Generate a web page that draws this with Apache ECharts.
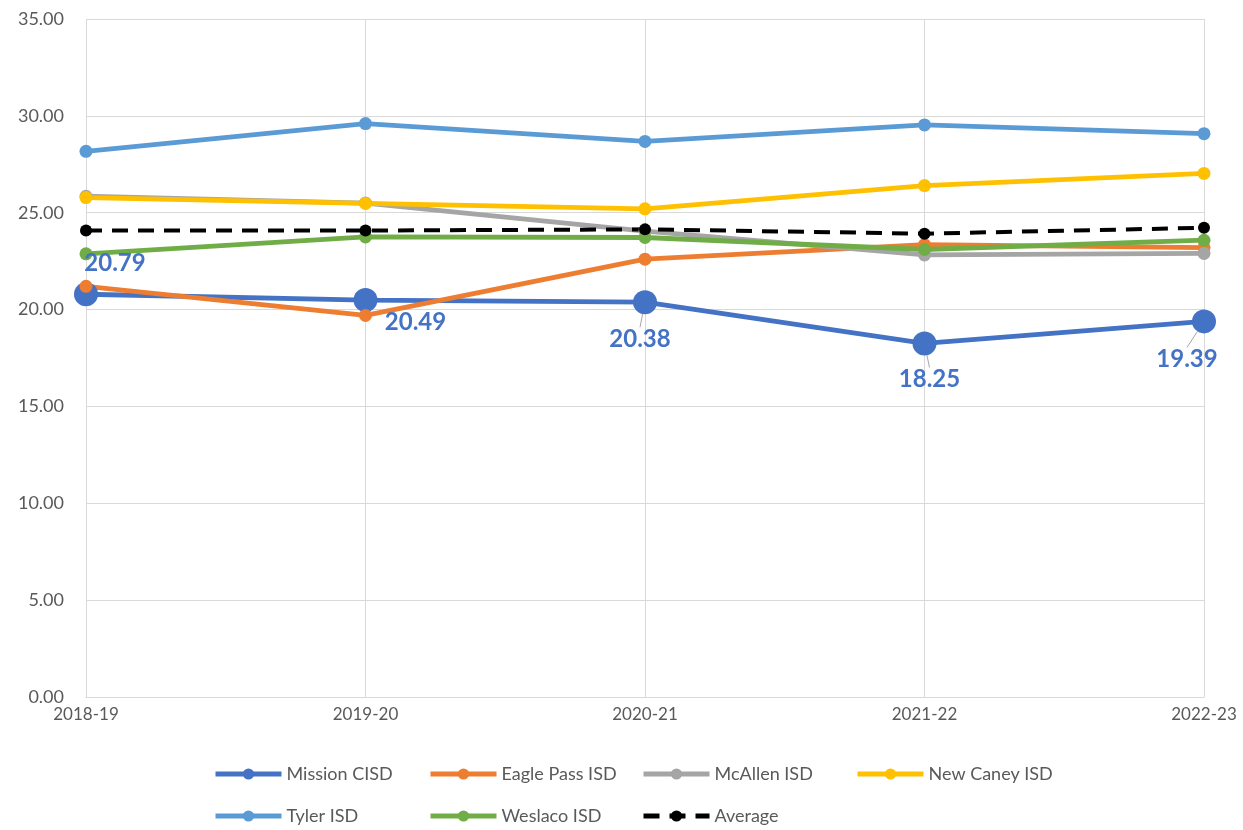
<!DOCTYPE html>
<html>
<head>
<meta charset="utf-8">
<script src="https://cdn.jsdelivr.net/npm/echarts@6/dist/echarts.min.js"></script>
<style>
  html, body { margin: 0; padding: 0; background: #fff; }
  #chart { width: 1243px; height: 830px; }
</style>
</head>
<body>
<div id="chart"></div>
<script>
// School years on the category axis
const years = ['2018-19', '2019-20', '2020-21', '2021-22', '2022-23'];

// Value per district and year
const missionCISD  = [20.79, 20.49, 20.38, 18.25, 19.39];
const eaglePassISD = [21.2, 19.7, 22.6, 23.35, 23.2];
const mcAllenISD   = [25.85, 25.5, 24.05, 22.82, 22.9];
const newCaneyISD  = [25.78, 25.48, 25.2, 26.4, 27.03];
const tylerISD     = [28.17, 29.6, 28.68, 29.53, 29.08];
const weslacoISD   = [22.88, 23.75, 23.72, 23.1, 23.58];
const average      = [24.08, 24.08, 24.14, 23.92, 24.22];

// Y axis ticks
const yTicks = [0, 5, 10, 15, 20, 25, 30, 35];

// Series names, in legend order
const seriesNames = ['Mission CISD', 'Eagle Pass ISD', 'McAllen ISD', 'New Caney ISD',
                     'Tyler ISD', 'Weslaco ISD', 'Average'];

const font = 'Lato, "Open Sans", sans-serif';
const grey = '#595959';

function lineSeries(name, data, color, opts) {
  return Object.assign({
    name: name,
    type: 'line',
    data: data,
    symbol: 'circle',
    symbolSize: 13,
    lineStyle: { color: color, width: 4.8 },
    itemStyle: { color: color },
    emphasis: { disabled: true },
    animation: false,
    z: 2
  }, opts || {});
}

// Label offsets (px) for the Mission CISD data labels
const missionLabelShift = [[29, -31], [50, 22], [-5, 37], [5, 36], [-17, 38]];
const missionLeader = [false, false, true, true, true];

// Legend laid out as a 4-column grid, one legend box per entry
const legendCols = [213, 428, 641, 855];
const legendRows = [765, 807];
const legends = seriesNames.map((name, i) => ({
  data: [name],
  left: legendCols[i % 4],
  top: legendRows[Math.floor(i / 4)],
  padding: 0,
  itemWidth: 66,
  itemHeight: 14,
  itemGap: 6,
  selectedMode: false,
  lineStyle: { width: 5 },
  textStyle: { color: grey, fontSize: 18, fontFamily: font }
}));

const chart = echarts.init(document.getElementById('chart'), null, { renderer: 'canvas' });

chart.setOption({
  backgroundColor: '#ffffff',
  textStyle: { fontFamily: font },
  grid: { left: 86, right: 39, top: 19, bottom: 133, containLabel: false },
  xAxis: {
    type: 'category',
    data: years,
    boundaryGap: false,
    axisLine: { lineStyle: { color: '#D9D9D9', width: 1 } },
    axisTick: { show: false },
    splitLine: { show: true, lineStyle: { color: '#D9D9D9', width: 1 } },
    axisLabel: { color: grey, fontSize: 17, margin: 9, fontFamily: font }
  },
  yAxis: {
    type: 'value',
    min: yTicks[0],
    max: yTicks[yTicks.length - 1],
    interval: yTicks[1] - yTicks[0],
    axisLine: { show: false },
    axisTick: { show: false },
    splitLine: { lineStyle: { color: '#D9D9D9', width: 1 } },
    axisLabel: {
      color: grey, fontSize: 18, margin: 22, fontFamily: font,
      formatter: v => v.toFixed(2)
    }
  },
  legend: legends,
  series: [
    lineSeries(seriesNames[0], missionCISD.map((v, i) => ({
      value: v,
      labelLine: { show: missionLeader[i] }
    })), '#4472C4', {
      symbolSize: 24,
      label: {
        show: true,
        position: 'inside',
        formatter: p => p.value.toFixed(2),
        color: '#4472C4',
        fontSize: 24,
        fontWeight: 'bold',
        fontFamily: font
      },
      labelLayout: p => ({ dx: missionLabelShift[p.dataIndex][0], dy: missionLabelShift[p.dataIndex][1] }),
      labelLine: { show: true, lineStyle: { color: '#A6A6A6', width: 1 }, length2: 0 }
    }),
    lineSeries(seriesNames[1], eaglePassISD, '#ED7D31'),
    lineSeries(seriesNames[2], mcAllenISD, '#A5A5A5'),
    lineSeries(seriesNames[3], newCaneyISD, '#FFC000'),
    lineSeries(seriesNames[4], tylerISD, '#5B9BD5'),
    lineSeries(seriesNames[5], weslacoISD, '#70AD47'),
    lineSeries(seriesNames[6], average, '#000000', {
      lineStyle: { color: '#000000', width: 4, type: [16, 10] },
      symbolSize: 12
    })
  ]
});
</script>
</body>
</html>
